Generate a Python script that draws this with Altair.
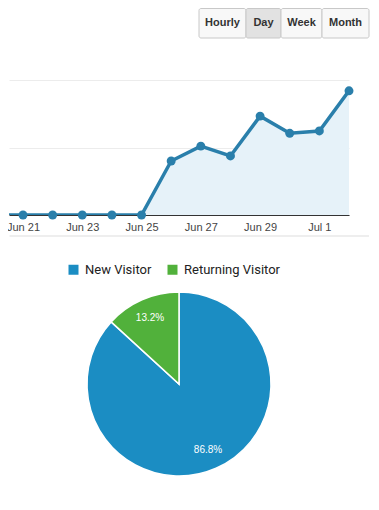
import altair as alt
import pandas as pd

# ---- data ----
dates = ["2017-06-20", "2017-06-21", "2017-06-22", "2017-06-23", "2017-06-24",
         "2017-06-25", "2017-06-26", "2017-06-27", "2017-06-28", "2017-06-29",
         "2017-06-30", "2017-07-01", "2017-07-02"]
visits = [0, 0, 0, 0, 0, 0, 16.0, 20.4, 17.5, 29.3, 24.2, 24.9, 36.8]

tick_dates = ["2017-06-21", "2017-06-23", "2017-06-25", "2017-06-27", "2017-06-29", "2017-07-01"]

visitor_types = ["New Visitor", "Returning Visitor"]
visitor_share = [86.8, 13.2]
visitor_colors = ["#1b8dc3", "#51b13b"]

buttons = ["Hourly", "Day", "Week", "Month"]
button_active = [False, True, False, False]
# layout (pixel edges of the button strip)
button_edges = [190, 237, 272, 313, 360]

FONT = "Liberation Sans"

# ---- buttons ----
btn_df = pd.DataFrame({
    "label": buttons,
    "x0": button_edges[:-1],
    "x1": button_edges[1:],
    "active": button_active,
})
btn_df["xc"] = (btn_df["x0"] + btn_df["x1"]) / 2
bx = alt.Scale(domain=[0, 360], range=[0, 360])
btn_base = alt.Chart(btn_df)
btn_rect = btn_base.mark_rect(stroke="#c8c8c8", strokeWidth=1, cornerRadius=2).encode(
    x=alt.X("x0:Q", scale=bx, axis=None),
    x2="x1:Q",
    y=alt.value(0.5),
    y2=alt.value(30),
    fill=alt.condition("datum.active", alt.value("#e2e2e2"), alt.value("#f8f8f8")),
)
btn_text = btn_base.mark_text(font=FONT, fontSize=11, fontWeight="bold", color="#333333").encode(
    x=alt.X("xc:Q", scale=bx, axis=None),
    y=alt.value(15),
    text="label:N",
)
buttons_chart = alt.layer(btn_rect, btn_text).properties(width=360, height=72)

# ---- line chart ----
line_df = pd.DataFrame({"date": dates, "visits": visits})
xs = alt.Scale(type="utc", domain=["2017-06-20T12:40:00Z", "2017-07-02T00:00:00Z"])
ys = alt.Scale(domain=[0, 40])
x_axis = alt.Axis(
    values=[alt.DateTime(year=int(d[:4]), month=int(d[5:7]), date=int(d[8:]), utc=True) for d in tick_dates],
    format="%b %-d", grid=False, ticks=False, domainColor="#333333", domainWidth=1,
    labelColor="#444444", labelFont=FONT, labelFontSize=11, labelPadding=6, title=None,
)
y_axis = alt.Axis(values=[0, 10, 20, 30, 40], labels=False, ticks=False, domain=False,
                  orient="right", grid=True, gridColor="#ececec", title=None)
base = alt.Chart(line_df).transform_calculate(d="utcParse(datum.date, '%Y-%m-%d')")
area = base.mark_area(color="#e6f2f9", clip=True).encode(
    x=alt.X("d:T", scale=xs, axis=x_axis),
    y=alt.Y("visits:Q", scale=ys, axis=y_axis),
)
line = base.mark_line(color="#2a7fab", strokeWidth=3.5, clip=True).encode(
    x=alt.X("d:T", scale=xs), y=alt.Y("visits:Q", scale=ys))
pts = base.transform_filter("datum.date != '2017-06-20'").mark_circle(
    color="#2a7fab", opacity=1, size=80).encode(
    x=alt.X("d:T", scale=xs), y=alt.Y("visits:Q", scale=ys))
sep = alt.Chart(pd.DataFrame({"a": [0]})).mark_rule(color="#dddddd", strokeWidth=1).encode(
    x=alt.value(0.5), x2=alt.value(360), y=alt.value(156))
line_chart = alt.layer(area, line, pts, sep).properties(width=340, height=135)

# ---- pie ----
pie_df = pd.DataFrame({"type": visitor_types, "share": visitor_share,
                       "idx": list(range(len(visitor_types)))})
pie_df["label"] = [f"{v:.1f}%" for v in visitor_share]
pbase = alt.Chart(pie_df)
color = alt.Color("type:N", scale=alt.Scale(domain=visitor_types, range=visitor_colors),
                  legend=alt.Legend(title=None, orient="none", direction="horizontal",
                                    legendX=58, legendY=48, symbolType="square", symbolSize=100,
                                    symbolStrokeWidth=0, symbolOpacity=1,
                                    labelFont="Roboto", labelFontSize=13, labelColor="#222222",
                                    columnPadding=14, labelOffset=5))
arc = pbase.mark_arc(stroke="white", strokeWidth=1.5, outerRadius=92).encode(
    theta=alt.Theta("share:Q", stack=True),
    order=alt.Order("idx:Q", sort="ascending"),
    color=color,
    x=alt.value(170), y=alt.value(169),
)
ptext = pbase.mark_text(radius=72, font=FONT, fontSize=10, color="white").encode(
    theta=alt.Theta("share:Q", stack=True),
    order=alt.Order("idx:Q", sort="ascending"),
    text="label:N",
    x=alt.value(170), y=alt.value(169),
)
pie_chart = alt.layer(arc, ptext).properties(width=340, height=265)

chart = alt.vconcat(buttons_chart, line_chart, pie_chart, spacing=0, bounds="flush").properties(
    padding={"left": -2, "top": 0, "right": 0, "bottom": 0}, background="white"
).resolve_legend(color="independent").configure_view(stroke=None)

chart.save("out.html", embed_options={"renderer": "svg", "actions": False})
